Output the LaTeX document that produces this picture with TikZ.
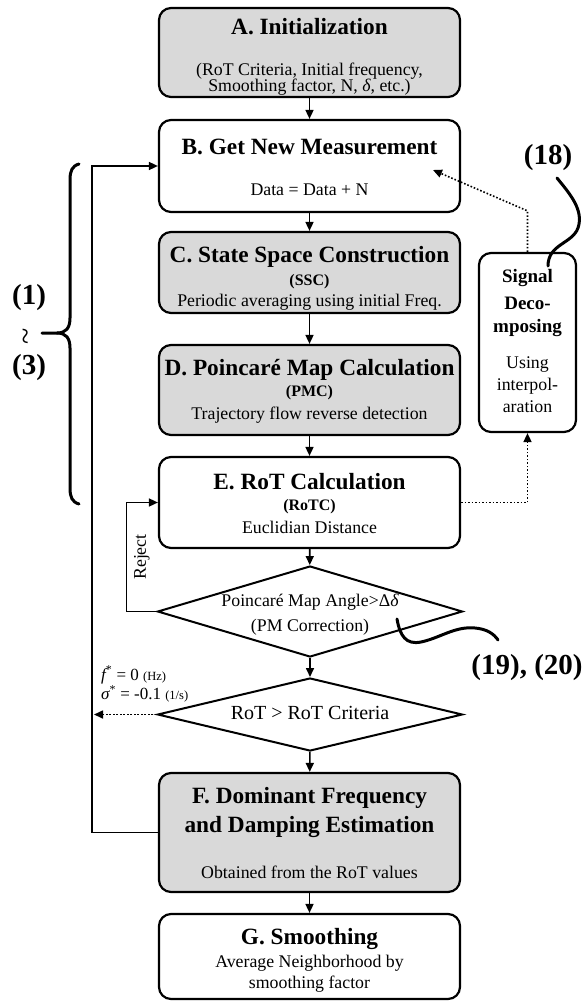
\documentclass[tikz,border=0pt]{standalone}
\usepackage{fontspec}
\setmainfont{Liberation Serif}
\usetikzlibrary{arrows.meta,shapes.geometric}
\definecolor{boxgray}{HTML}{D9D9D9}
\newcommand{\setfs}[1]{\fontsize{#1}{#1}\selectfont}

\tikzset{
  blk/.style={draw, line width=2.2pt, rounded corners=12pt, inner sep=0pt, fill=white},
  gblk/.style={blk, fill=boxgray},
  dia/.style={draw, diamond, line width=2pt, inner sep=0pt, fill=white},
  ttl/.style={inner sep=0pt, font=\setfs{23.3}\bfseries},
  abbr/.style={inner sep=0pt, font=\setfs{16}\bfseries},
  sub/.style={inner sep=0pt, font=\setfs{17.8}},
  ref/.style={inner sep=0pt, font=\setfs{29}\bfseries},
  arr/.style={line width=1.6pt, -{Triangle[length=9pt,width=8pt]}},
  dotarr/.style={line width=1.6pt, dash pattern=on 1.6pt off 1.9pt, -{Triangle[length=9pt,width=8pt]}},
  curl/.style={line width=3pt, line cap=round},
}

\begin{document}
\begin{tikzpicture}[x=1pt, y=-1pt]
\useasboundingbox (0,0) rectangle (585,1001);

% main column of blocks
\node[gblk, minimum width=301pt, minimum height=89pt] (A) at (309.5,52.5) {};
\node[blk,  minimum width=301pt, minimum height=92pt] (B) at (309.5,166) {};
\node[gblk, minimum width=301pt, minimum height=81pt] (C) at (309.5,272.5) {};
\node[gblk, minimum width=301pt, minimum height=90pt] (D) at (309.5,390) {};
\node[blk,  minimum width=301pt, minimum height=91pt] (E) at (309.5,502.5) {};
\node[dia,  minimum width=305pt, minimum height=91pt] (d1) at (310,611.5) {};
\node[dia,  minimum width=305pt, minimum height=73pt] (d2) at (310,714.5) {};
\node[gblk, minimum width=301pt, minimum height=119pt] (F) at (309.5,832.5) {};
\node[blk,  minimum width=301pt, minimum height=85pt] (G) at (309.5,956.5) {};

% side block
\node[blk, minimum width=97pt, minimum height=179pt] (sig) at (527.5,342.5) {};

% block texts
\node[ttl] (Atitle) at (309.5,27) {A. Initialization};
\node[sub] (Asub1) at (309.5,71) {(RoT Criteria, Initial frequency,};
\node[sub] (Asub2) at (309.5,87) {Smoothing factor, N, {\itshape δ}, etc.)};

\node[ttl] (Btitle) at (309.5,147) {B. Get New Measurement};
\node[sub] (Bsub) at (309.5,190) {Data = Data + N};

\node[ttl] (Ctitle) at (309.5,257) {C. State Space Construction};
\node[abbr] (Cabbr) at (309.5,282) {(SSC)};
\node[sub] (Csub) at (309.5,302) {Periodic averaging using initial Freq.};

\node[ttl] (Dtitle) at (309.5,370) {D. Poincaré Map Calculation};
\node[abbr] (Dabbr) at (309.5,393) {(PMC)};
\node[sub] (Dsub) at (309.5,415) {Trajectory flow reverse detection};

\node[ttl] (Etitle) at (309.5,482) {E. RoT Calculation};
\node[abbr] (Eabbr) at (309.5,507) {(RoTC)};
\node[sub] (Esub) at (309.5,527) {Euclidian Distance};

\node[sub] (d1a) at (310,602) {Poincaré Map Angle>Δ{\itshape δ}};
\node[sub] (d1b) at (310,627) {(PM Correction)};

\node[inner sep=0pt, font=\setfs{20}] (d2t) at (310,713) {RoT > RoT Criteria};

\node[ttl] (Ft1) at (309.5,798) {F. Dominant Frequency};
\node[ttl] (Ft2) at (309.5,827) {and Damping Estimation};
\node[sub] (Fsub) at (309.5,872) {Obtained from the RoT values};

\node[ttl] (Gtitle) at (309.5,939) {G. Smoothing};
\node[sub] (Gs1) at (309.5,963) {Average Neighborhood by};
\node[sub] (Gs2) at (309.5,984) {smoothing factor};

\node[inner sep=0pt, font=\setfs{19}\bfseries] (s1) at (527.5,278) {Signal};
\node[inner sep=0pt, font=\setfs{19}\bfseries] (s2) at (527.5,303) {Deco-};
\node[inner sep=0pt, font=\setfs{19}\bfseries] (s3) at (527.5,328) {mposing};
\node[sub] (s4) at (527.5,365) {Using};
\node[sub] (s5) at (527.5,386) {interpol-};
\node[sub] (s6) at (527.5,407) {aration};

% main flow
\draw[arr] (A) -- (B);
\draw[arr] (B) -- (C);
\draw[arr] (C) -- (D);
\draw[arr] (D) -- (E);
\draw[arr] (E) -- (d1);
\draw[arr] (d1) -- (d2);
\draw[arr] (d2) -- (F);
\draw[arr] (F) -- (G);

% feedback loops
\draw[arr] (F.west) -- ++(-66,0) |- (B.west);
\draw[arr] (d1.west) -- ++(-30,0) |- (E.west);
\node[sub, rotate=90] (rej) at (142,557) {Reject};

% zero result when the criterion fails
\coordinate (fail) at (94,714.5);
\draw[dotarr] (d2.west) -- (fail);
\node[inner sep=0pt, anchor=west, font=\setfs{17}] (fres) at (101,675)
  {{\itshape f}\textsuperscript{*} = 0 {\setfs{12.5}(Hz)}};
\node[inner sep=0pt, anchor=west, font=\setfs{17}] (sres) at (101,694)
  {{\itshape σ}\textsuperscript{*} = -0.1 {\setfs{12.5}(1/s)}};

% signal decomposition path
\coordinate (bIn) at (433,170);
\draw[dotarr] (E.east) -| (sig.south);
\draw[dotarr] (sig.north) -- ++(0,-41) -- (bIn);

% equation references
\node[ref] (r18) at (548,158) {(18)};
\draw[curl] (557,178) .. controls (570,194) and (584,210) .. (578,228)
  .. controls (572,244) and (548,244) .. (548,266);

\node[ref] (r1920) at (527,668) {(19), (20)};
\draw[curl] (397,619) .. controls (400,636) and (406,645) .. (421,642)
  .. controls (440,638) and (455,626) .. (475,628)
  .. controls (487,629) and (494,634) .. (498,640);

% brace over steps B to E
\draw[curl] (79,164) .. controls (72,166) and (70,171) .. (70,180)
  -- (70,318) .. controls (70,328) and (66,333) .. (57,333) -- (42,333);
\draw[curl] (57,333) .. controls (66,333) and (70,338) .. (70,348)
  -- (70,488) .. controls (70,497) and (72,502) .. (79,504);
\node[ref] (r1) at (29,298) {(1)};
\node[inner sep=0pt, rotate=90, font=\setfs{30}] (rt) at (29,336) {\char`\~};
\node[ref] (r3) at (29,368) {(3)};
\end{tikzpicture}
\end{document}
